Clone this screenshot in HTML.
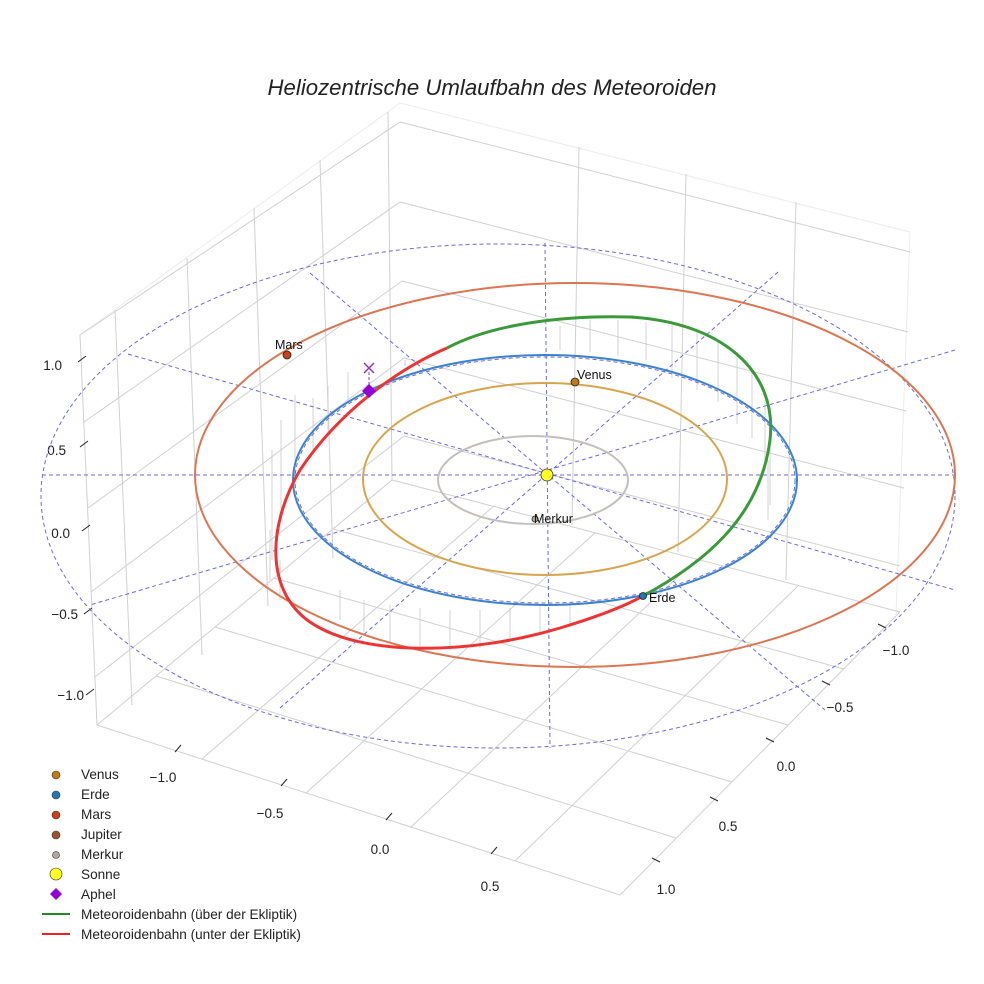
<!DOCTYPE html>
<html><head><meta charset="utf-8"><style>
html,body{margin:0;padding:0;background:#fff}
svg{display:block}
text{font-family:"Liberation Sans",sans-serif}
</style></head><body>
<svg width="984" height="984" viewBox="0 0 984 984" xmlns="http://www.w3.org/2000/svg">
<text x="492" y="95" text-anchor="middle" font-size="22.2" font-style="italic" fill="#222">Heliozentrische Umlaufbahn des Meteoroiden</text>
<g stroke="#d0d0d0" stroke-width="1" fill="none">
<polyline points="80,335 400,103 910,232" stroke="#ececec"/>
<line x1="80" y1="335" x2="97" y2="725"/>
<line x1="910" y1="232" x2="896" y2="615" stroke="#ececec"/>
<line x1="80" y1="335" x2="400" y2="122"/>
<line x1="84" y1="422" x2="400" y2="202"/>
<line x1="88" y1="508" x2="402" y2="281"/>
<line x1="91" y1="592" x2="404" y2="358"/>
<line x1="95" y1="677" x2="404" y2="436"/>
<line x1="115" y1="310" x2="132" y2="705"/>
<line x1="187" y1="258" x2="202" y2="655"/>
<line x1="254" y1="208" x2="268" y2="606"/>
<line x1="320" y1="160" x2="333" y2="558"/>
<line x1="388" y1="112" x2="392" y2="480"/>
<line x1="400" y1="122" x2="910" y2="252"/>
<line x1="400" y1="202" x2="908" y2="332"/>
<line x1="402" y1="281" x2="906" y2="411"/>
<line x1="404" y1="358" x2="904" y2="488"/>
<line x1="404" y1="436" x2="900" y2="566"/>
<line x1="579" y1="147" x2="572" y2="525"/>
<line x1="686" y1="174" x2="678" y2="552"/>
<line x1="796" y1="202" x2="786" y2="580"/>
<line x1="392" y1="480" x2="900" y2="612"/>
<line x1="97" y1="725" x2="392" y2="480"/>
<line x1="97" y1="725" x2="620" y2="895"/>
<line x1="620" y1="895" x2="900" y2="612"/>
<line x1="494" y1="506" x2="202" y2="759"/>
<line x1="595" y1="533" x2="306" y2="793"/>
<line x1="697" y1="559" x2="411" y2="827"/>
<line x1="798" y1="586" x2="515" y2="861"/>
<line x1="333" y1="529" x2="844" y2="669"/>
<line x1="274" y1="578" x2="788" y2="725"/>
<line x1="215" y1="627" x2="732" y2="782"/>
<line x1="156" y1="676" x2="676" y2="838"/>
</g>
<g stroke="#222" stroke-width="1">
<line x1="78" y1="362" x2="86" y2="356"/><line x1="80" y1="447" x2="88" y2="441"/>
<line x1="82" y1="531" x2="90" y2="525"/><line x1="84" y1="614" x2="92" y2="608"/>
<line x1="86" y1="695" x2="94" y2="689"/>
<line x1="175" y1="752" x2="181" y2="745"/><line x1="281" y1="786" x2="287" y2="779"/>
<line x1="386" y1="820" x2="392" y2="813"/><line x1="491" y1="854" x2="497" y2="847"/>
<line x1="878" y1="624" x2="886" y2="628"/><line x1="822" y1="681" x2="830" y2="685"/>
<line x1="766" y1="738" x2="774" y2="742"/><line x1="710" y1="797" x2="718" y2="801"/>
<line x1="652" y1="858" x2="660" y2="862"/>
</g>
<g font-size="13.5" fill="#222">
<text x="62" y="370" text-anchor="end">1.0</text><text x="66" y="455" text-anchor="end">0.5</text>
<text x="70" y="538" text-anchor="end">0.0</text><text x="78" y="619" text-anchor="end">−0.5</text>
<text x="84" y="700" text-anchor="end">−1.0</text>
<text x="163" y="782" text-anchor="middle">−1.0</text><text x="270" y="818" text-anchor="middle">−0.5</text>
<text x="380" y="854" text-anchor="middle">0.0</text><text x="490" y="891" text-anchor="middle">0.5</text>
<text x="896" y="655" text-anchor="middle">−1.0</text><text x="840" y="712" text-anchor="middle">−0.5</text>
<text x="786" y="771" text-anchor="middle">0.0</text><text x="728" y="831" text-anchor="middle">0.5</text>
<text x="666" y="894" text-anchor="middle">1.0</text>
</g>
<g stroke="#c8c8c8" stroke-width="0.8">
<line x1="272" y1="450" x2="272" y2="560"/><line x1="281" y1="420" x2="281" y2="520"/>
<line x1="295" y1="395" x2="295" y2="480"/><line x1="313" y1="398" x2="313" y2="450"/>
<line x1="328" y1="386" x2="328" y2="430"/><line x1="348" y1="372" x2="348" y2="400"/>
<line x1="270" y1="530" x2="270" y2="580"/><line x1="280" y1="560" x2="280" y2="600"/>
<line x1="405" y1="360" x2="405" y2="366"/><line x1="560" y1="326" x2="560" y2="350"/>
<line x1="590" y1="320" x2="590" y2="352"/><line x1="618" y1="320" x2="618" y2="356"/>
<line x1="646" y1="322" x2="646" y2="360"/><line x1="672" y1="325" x2="672" y2="378"/>
<line x1="697" y1="332" x2="697" y2="390"/><line x1="718" y1="340" x2="718" y2="402"/>
<line x1="737" y1="356" x2="737" y2="424"/><line x1="752" y1="370" x2="752" y2="438"/>
<line x1="765" y1="400" x2="765" y2="470"/><line x1="770" y1="430" x2="770" y2="505"/>
<line x1="768" y1="460" x2="768" y2="520"/><line x1="340" y1="620" x2="340" y2="590"/>
<line x1="364" y1="632" x2="364" y2="600"/><line x1="390" y1="642" x2="390" y2="605"/>
<line x1="420" y1="648" x2="420" y2="608"/><line x1="450" y1="650" x2="450" y2="610"/>
<line x1="480" y1="648" x2="480" y2="610"/><line x1="510" y1="642" x2="510" y2="608"/>
<line x1="540" y1="635" x2="540" y2="606"/><line x1="570" y1="626" x2="570" y2="604"/>
</g>
<g stroke="#6a6ae0" stroke-width="1" stroke-dasharray="4,3" fill="none">
<ellipse cx="498" cy="496" rx="457" ry="252"/>
<line x1="42" y1="475" x2="955" y2="475"/>
<line x1="545" y1="243" x2="550" y2="748"/>
<line x1="128" y1="354" x2="955" y2="590"/>
<line x1="310" y1="273" x2="825" y2="710"/>
<line x1="778" y1="272" x2="280" y2="708"/>
<line x1="955" y1="350" x2="90" y2="605"/>
<ellipse cx="545" cy="480" rx="250" ry="123"/>
</g>
<g fill="none" stroke-width="2">
<ellipse cx="533" cy="480" rx="95" ry="44" stroke="#c4bfbb"/>
<ellipse cx="545" cy="479" rx="182" ry="96" stroke="#d8a54e"/>
<ellipse cx="545" cy="480" rx="252" ry="125" stroke="#3a82d0"/>
<ellipse cx="575" cy="475" rx="380" ry="192" stroke="#dc7651"/>
</g>
<path d="M643,596 C700,565 760,520 770,440 C778,370 720,322 630,317 C560,315 490,325 447,348" fill="none" stroke="#3a9a3a" stroke-width="3"/>
<path d="M447,348 C400,368 340,410 300,470 C265,530 265,600 320,628 C370,655 470,655 560,628 C600,616 625,606 643,596" fill="none" stroke="#ee3333" stroke-width="3"/>
<line x1="369" y1="372" x2="369" y2="388" stroke="#9a30d0" stroke-dasharray="3,2"/>
<g stroke="#9a30d0" stroke-width="1.5"><line x1="364" y1="363" x2="374" y2="373"/><line x1="374" y1="363" x2="364" y2="373"/></g>
<polygon points="369,384 376,391 369,398 362,391" fill="#9400d3"/>
<circle cx="287" cy="355" r="4" fill="#c8401a" stroke="#222" stroke-width="0.8"/>
<circle cx="575" cy="382" r="4" fill="#c07a18" stroke="#222" stroke-width="0.8"/>
<circle cx="535" cy="519" r="3" fill="#b0a89f" stroke="#222" stroke-width="0.8"/>
<circle cx="643" cy="596" r="3.5" fill="#1f77b4" stroke="#222" stroke-width="0.8"/>
<circle cx="547" cy="475" r="6" fill="#ffff22" stroke="#333" stroke-width="0.8"/>
<g font-size="12.5" fill="#111">
<text x="275" y="349">Mars</text><text x="577" y="379">Venus</text>
<text x="534" y="523">Merkur</text><text x="649" y="602">Erde</text>
</g>
<g font-size="13.6" fill="#222">
<circle cx="56" cy="775" r="4" fill="#c07a18" stroke="#333" stroke-width="0.6"/><text x="81" y="779">Venus</text>
<circle cx="56" cy="795" r="4" fill="#1f77b4" stroke="#333" stroke-width="0.6"/><text x="81" y="799">Erde</text>
<circle cx="56" cy="815" r="4" fill="#c8401a" stroke="#333" stroke-width="0.6"/><text x="81" y="819">Mars</text>
<circle cx="56" cy="835" r="4" fill="#a0522d" stroke="#333" stroke-width="0.6"/><text x="81" y="839">Jupiter</text>
<circle cx="56" cy="855" r="3.5" fill="#b0a89f" stroke="#333" stroke-width="0.6"/><text x="81" y="859">Merkur</text>
<circle cx="56" cy="874" r="6" fill="#ffff22" stroke="#333" stroke-width="0.6"/><text x="81" y="879">Sonne</text>
<polygon points="56,888 62,894 56,900 50,894" fill="#9400d3"/><text x="81" y="899">Aphel</text>
<line x1="42" y1="914" x2="70" y2="914" stroke="#228b22" stroke-width="2"/><text x="81" y="919">Meteoroidenbahn (über der Ekliptik)</text>
<line x1="42" y1="934" x2="70" y2="934" stroke="#ee2222" stroke-width="2"/><text x="81" y="939">Meteoroidenbahn (unter der Ekliptik)</text>
</g>
</svg>
</body></html>
